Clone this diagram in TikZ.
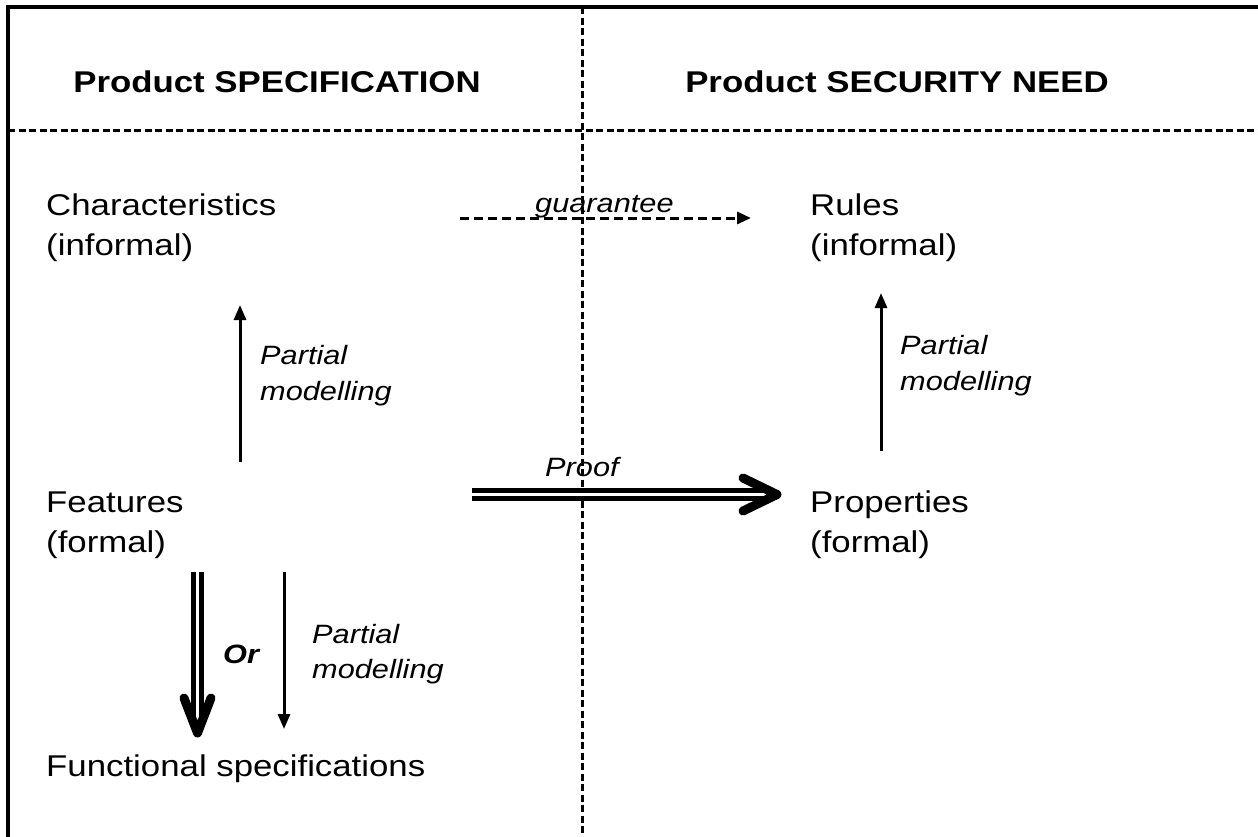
\documentclass[tikz,border=0pt]{standalone}
\usepackage{fontspec}
\setmainfont{Liberation Sans}[FakeStretch=1.16]
\usetikzlibrary{arrows.meta}
\begin{document}
\begin{tikzpicture}[x=1pt,y=-1pt,
  frameline/.style={line width=3.5pt},
  sepline/.style={line width=3pt, dash pattern=on 7pt off 3.5pt},
  maintext/.style={anchor=base west, inner sep=0pt, font=\fontsize{30}{36}\selectfont},
  headtext/.style={anchor=base, inner sep=0pt, font=\fontsize{30}{36}\selectfont\bfseries},
  lbl/.style={anchor=base west, inner sep=0pt, font=\fontsize{26.5}{32}\selectfont\itshape},
  thinarrow/.style={line width=3pt, -{Triangle[length=15pt,width=12pt]}},
  dasharrow/.style={line width=3pt, dash pattern=on 9pt off 5pt, -{Triangle[length=14pt,width=12pt]}},
  dblshaft/.style={double, line width=4.8pt, double distance=2.5pt},
  chevron/.style={line width=9pt, line cap=round, line join=round}
]
\useasboundingbox (0,0) rectangle (1258,836);
% frame
\coordinate (fbl) at (8,840);
\coordinate (ftl) at (8,7);
\coordinate (ftr) at (1262,7);
\draw[frameline] (fbl) -- (ftl) -- (ftr);
\coordinate (hl) at (8,130);
\coordinate (hr) at (1262,130);
\draw[sepline] (hl) -- (hr);
\coordinate (vt) at (582,7);
\coordinate (vb) at (582,840);
\draw[sepline] (vt) -- (vb);
% headers
\node[headtext] (hspec) at (277,92) {Product SPECIFICATION};
\node[headtext] (hneed) at (897,92) {Product SECURITY NEED};
% texts
\node[maintext] (char1) at (46,215) {Characteristics};
\node[maintext] (char2) at (46,255) {(informal)};
\node[maintext] (rules1) at (810,215) {Rules};
\node[maintext] (rules2) at (810,255) {(informal)};
\node[maintext] (feat1) at (46,512) {Features};
\node[maintext] (feat2) at (46,552) {(formal)};
\node[maintext] (prop1) at (810,512) {Properties};
\node[maintext] (prop2) at (810,552) {(formal)};
\node[maintext] (func) at (46,776) {Functional specifications};
% guarantee
\coordinate (gs) at (460,218);
\coordinate (ge) at (751,218);
\draw[dasharrow] (gs) -- (ge);
\node[lbl] (glbl) at (535,212) {guarantee};
% left partial modelling (up)
\coordinate (lus) at (240,462);
\coordinate (lue) at (240,305);
\draw[thinarrow] (lus) -- (lue);
\node[lbl] (lul1) at (260,364) {Partial};
\node[lbl] (lul2) at (260,400) {modelling};
% right partial modelling (up)
\coordinate (rus) at (881,451);
\coordinate (rue) at (881,293);
\draw[thinarrow] (rus) -- (rue);
\node[lbl] (rul1) at (900,354) {Partial};
\node[lbl] (rul2) at (900,390) {modelling};
% down partial modelling
\coordinate (lds) at (284,572);
\coordinate (lde) at (284,729);
\draw[thinarrow] (lds) -- (lde);
\node[lbl] (ldl1) at (312,643) {Partial};
\node[lbl] (ldl2) at (312,678) {modelling};
% Or double arrow
\coordinate (os) at (197.5,572);
\coordinate (oe) at (197.5,726);
\coordinate (otip) at (197.5,733);
\coordinate (oa) at (184,698);
\coordinate (ob) at (211,698);
\draw[dblshaft] (os) -- (oe);
\draw[chevron] (oa) -- (otip) -- (ob);
\node[lbl, font=\fontsize{26.5}{32}\selectfont\bfseries\itshape] (orl) at (223,663) {Or};
% Proof double arrow
\coordinate (ps) at (472,494.5);
\coordinate (pe) at (770,494.5);
\coordinate (ptip) at (777,494.5);
\coordinate (pa) at (743,478);
\coordinate (pb) at (743,511);
\draw[dblshaft] (ps) -- (pe);
\draw[chevron] (pa) -- (ptip) -- (pb);
\node[lbl] (plbl) at (545,476) {Proof};
\end{tikzpicture}
\end{document}
